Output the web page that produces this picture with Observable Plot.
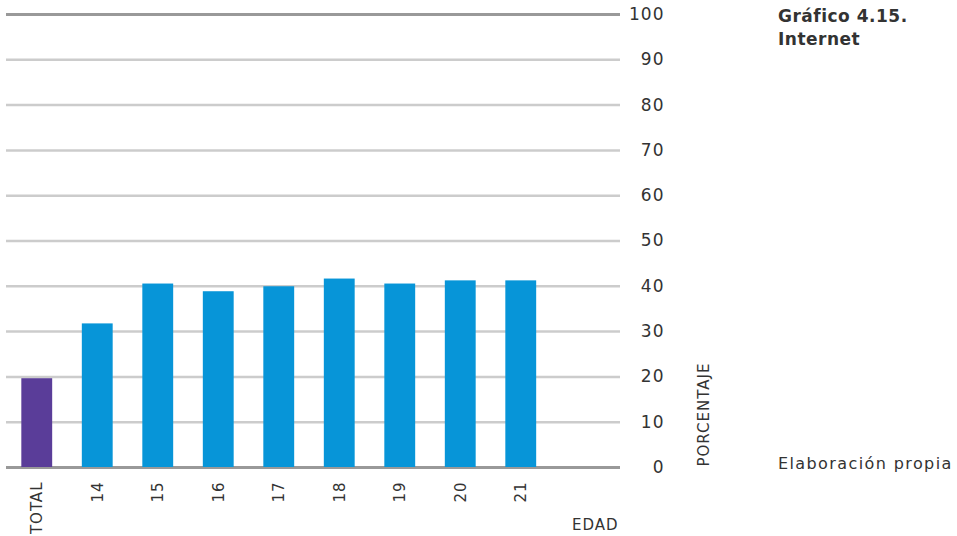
<!DOCTYPE html>
<html><head><meta charset="utf-8">
<script src="https://cdn.jsdelivr.net/npm/d3@7"></script>
<script src="https://cdn.jsdelivr.net/npm/@observablehq/plot@0.6"></script>
<style>
body{margin:0;background:#fff;}
#wrap{position:relative;width:957px;height:536px;font-family:"DejaVu Sans",sans-serif;color:#333;}
#title{position:absolute;left:778px;top:5px;font-size:17px;font-weight:bold;line-height:23px;color:#333;letter-spacing:0.5px;}
#caption{position:absolute;left:778px;top:454px;font-size:16px;color:#333;letter-spacing:1.4px;}
</style></head>
<body><div id="wrap"><div id="title">Gráfico 4.15.<br>Internet</div><div id="caption">Elaboración propia</div></div>
<script>
const categories = ["TOTAL","14","15","16","17","18","19","20","21"];
const values = [19.6, 31.7, 40.5, 38.8, 39.9, 41.6, 40.5, 41.2, 41.2];
const barColors = ["#5a3d99","#0795d8","#0795d8","#0795d8","#0795d8","#0795d8","#0795d8","#0795d8","#0795d8"];
const yTicks = [0,10,20,30,40,50,60,70,80,90,100];
const gridTicks = [10,20,30,40,50,60,70,80,90];
const edgeTicks = [0,100];
const xLabel = "EDAD";
const yLabel = "PORCENTAJE";

const data = categories.map((c,i)=>({cat:c, value:values[i], color:barColors[i]}));
const domain = [...categories, "_empty"];

const chart = Plot.plot({
  width: 957, height: 536,
  marginLeft: 6, marginRight: 337, marginTop: 14, marginBottom: 69,
  style: {fontFamily: "'DejaVu Sans', sans-serif", fontSize: "15px", color: "#333", background: "transparent", letterSpacing: "1px"},
  x: {domain, range: [6.5, 611.5], paddingInner: 0.49, paddingOuter: 0.245, align: 0.5, round: false},
  y: {domain: [0,100]},
  marks: [
    Plot.ruleY(gridTicks, {stroke: "#cccccc", strokeWidth: 2.5}),
    Plot.ruleY(edgeTicks, {stroke: "#999999", strokeWidth: 3}),
    Plot.barY(data, {x: "cat", y: "value", fill: "color"}),
    Plot.axisY(yTicks, {anchor: "right", tickSize: 0, tickPadding: 44, textAnchor: "end", fontSize: 17, label: null, fill: "#333"}),
    Plot.axisX(categories, {anchor: "bottom", tickSize: 0, tickPadding: 14, tickRotate: -90, fontSize: 15, label: null, fill: "#333"}),
    Plot.text([yLabel], {frameAnchor: "bottom-right", text: d=>d, rotate: -90, textAnchor: "start", lineAnchor: "middle", dx: 84, dy: -1, fontSize: 15, fill: "#333"}),
    Plot.text([xLabel], {frameAnchor: "bottom-right", text: d=>d, textAnchor: "end", lineAnchor: "middle", dx: -2, dy: 58, fontSize: 15, fill: "#333"})
  ]
});
chart.style.position = "absolute";
chart.style.left = "0";
chart.style.top = "0";
document.getElementById("wrap").prepend(chart);
</script>
</body></html>
